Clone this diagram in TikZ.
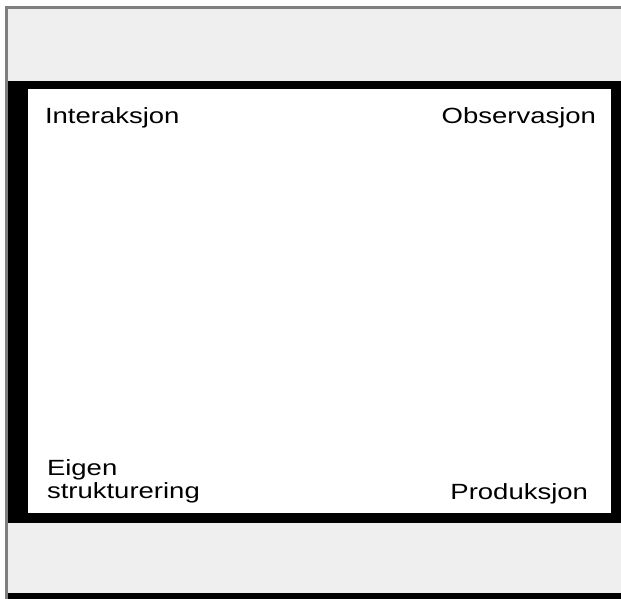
\documentclass[tikz,border=0pt]{standalone}
\usepackage{fontspec}
\setmainfont{Liberation Sans}
\definecolor{bandgray}{HTML}{EFEFEF}
\definecolor{linegray}{HTML}{7F7F7F}
\begin{document}
\begin{tikzpicture}[x=1pt,y=-1pt,
  lbl/.style={inner sep=0pt,outer sep=0pt,xscale=1.25,font=\fontsize{22}{23}\selectfont,align=left}]
\useasboundingbox (0,0) rectangle (621,599);
\fill[white] (0,0) rectangle (621,599);
% gray outer lines
\fill[linegray] (5,6) rectangle (621,9);
\fill[linegray] (5,6) rectangle (8,599);
% light gray bands
\fill[bandgray] (8,9) rectangle (621,81);
\fill[bandgray] (8,523) rectangle (621,593);
% bottom black line
\fill[black] (8,593) rectangle (621,599);
% thick black frame
\fill[black] (8,81) rectangle (621,523);
\fill[white] (28,89) rectangle (611,513);
% labels
\node[lbl,anchor=base west] (inter) at (45,124) {Interaksjon};
\node[lbl,anchor=base east] (obs) at (596,124) {Observasjon};
\node[lbl,anchor=base west] (eigen) at (47,498) {Eigen\\strukturering};
\node[lbl,anchor=base east] (prod) at (588,499) {Produksjon};
\end{tikzpicture}
\end{document}
